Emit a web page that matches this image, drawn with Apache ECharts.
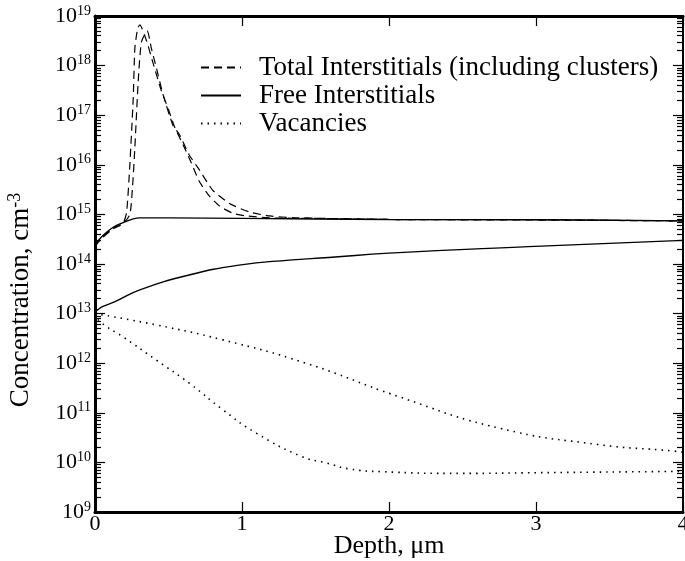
<!DOCTYPE html>
<html>
<head>
<meta charset="utf-8">
<script src="https://cdn.jsdelivr.net/npm/echarts@6/dist/echarts.min.js"></script>
<style>
html, body { margin: 0; padding: 0; background: #fff; }
#chart { width: 685px; height: 561px; }
</style>
</head>
<body>
<div id="chart"></div>
<script>
// values (depth in um, concentration in cm^-3)
const totalA_x = [0, 0.02, 0.056, 0.124, 0.19, 0.215, 0.237, 0.26, 0.271, 0.29, 0.305, 0.35, 0.4, 0.45, 0.5, 0.54, 0.6, 0.655, 0.71, 0.78, 0.85, 0.94, 1.03, 1.2, 1.5, 2, 3, 4];
const totalA_y = [2.3e14, 2.8e14, 3.6e14, 5.3e14, 6.6e14, 1.1e15, 1.0e16, 2.2e17, 2.2e18, 5.6e18, 6.6e18, 3.2e18, 1.0e18, 3.2e17, 1.3e17, 5.9e16, 2.5e16, 1.1e16, 4.6e15, 2.3e15, 1.45e15, 1.05e15, 9.3e14, 8.5e14, 8.3e14, 7.9e14, 7.8e14, 7.4e14];

const totalB_x = [0, 0.02, 0.056, 0.124, 0.19, 0.237, 0.255, 0.271, 0.294, 0.316, 0.355, 0.384, 0.418, 0.463, 0.53, 0.576, 0.64, 0.71, 0.8, 0.915, 1.05, 1.19, 1.35, 2, 3, 4];
const totalB_y = [2.2e14, 2.7e14, 3.5e14, 5.1e14, 6.5e14, 1.0e15, 3.5e15, 2.2e16, 4.8e17, 3.0e18, 5.0e18, 2.2e18, 8.9e17, 2.6e17, 6.3e16, 4.0e16, 1.6e16, 7.9e15, 3.1e15, 1.66e15, 1.12e15, 9.3e14, 8.6e14, 7.9e14, 7.7e14, 7.4e14];

const freeA_x = [0, 0.02, 0.056, 0.124, 0.19, 0.26, 0.305, 0.5, 1, 2, 3, 4];
const freeA_y = [2.4e14, 2.9e14, 3.8e14, 5.5e14, 6.8e14, 8.1e14, 8.5e14, 8.5e14, 8.3e14, 7.9e14, 7.8e14, 7.4e14];

const freeB_x = [0, 0.02, 0.05, 0.136, 0.305, 0.64, 0.98, 1.32, 1.59, 2.0, 2.95, 4.0];
const freeB_y = [1.1e13, 1.2e13, 1.38e13, 1.74e13, 3.0e13, 6.0e13, 9.5e13, 1.2e14, 1.35e14, 1.66e14, 2.24e14, 3.0e14];

const vacA_x = [0, 0.418, 0.87, 1.435, 2.07, 2.75, 3.42, 3.93, 4];
const vacA_y = [1.0e13, 5.9e12, 2.95e12, 1.0e12, 2.1e11, 4.9e10, 2.3e10, 1.7e10, 1.6e10];

const vacB_x = [0, 0.034, 0.19, 0.418, 0.644, 0.87, 1.096, 1.41, 1.57, 1.73, 1.95, 2.5, 3, 4];
const vacB_y = [1.0e13, 6.9e12, 3.4e12, 1.15e12, 3.9e11, 1.15e11, 3.9e10, 1.3e10, 9.8e9, 7.4e9, 6.5e9, 6.0e9, 6.2e9, 6.6e9];

const xTicks = [0, 1, 2, 3, 4];
const yExponents = [9, 10, 11, 12, 13, 14, 15, 16, 17, 18, 19];

const majorTicks = yExponents.map(e => Math.pow(10, e));
// minor tick positions (log10 of 2..9 x 10^e) for the overlay tick axes
const minorTicks = [];
yExponents.slice(0, -1).forEach(e => {
  for (let m = 2; m <= 9; m++) minorTicks.push(e + Math.log10(m));
});

const pairs = (xs, ys) => xs.map((x, i) => [x, ys[i]]);

const font = '"Liberation Serif", "DejaVu Serif", serif';
const black = '#000';

const names = {
  total: 'Total Interstitials (including clusters)',
  free: 'Free Interstitials',
  vac: 'Vacancies'
};

function logAxis(pos, lineW) {
  return {
    type: 'log',
    logBase: 10,
    min: majorTicks[0],
    max: majorTicks[majorTicks.length - 1],
    position: pos,
    axisLine: { show: true, lineStyle: { color: black, width: lineW } },
    axisTick: { show: false },
    axisLabel: { show: false },
    splitLine: { show: false }
  };
}

// tick-only axes in exponent units, laid over the log axis
function tickAxis(pos, len, custom) {
  const ax = {
    type: 'value',
    min: yExponents[0],
    max: yExponents[yExponents.length - 1],
    interval: 1,
    position: pos,
    axisLine: { show: false },
    axisTick: { show: true, inside: true, length: len, lineStyle: { color: black, width: 1.2 } },
    axisLabel: { show: false },
    splitLine: { show: false }
  };
  if (custom) ax.axisTick.customValues = custom;
  return ax;
}

const leftMain = logAxis('left', 3);
leftMain.axisLabel = {
  show: true,
  customValues: majorTicks,
  margin: 4,
  fontFamily: font,
  fontSize: 22,
  color: black,
  formatter: v => '10{sup|' + Math.round(Math.log10(v)) + '}',
  rich: {
    sup: { fontFamily: font, fontSize: 14, color: black, padding: [0, 0, 10, 0] }
  }
};
leftMain.name = 'Concentration, cm{sup|-3}';
leftMain.nameLocation = 'middle';
leftMain.nameGap = 60;
leftMain.nameTextStyle = {
  fontFamily: font, fontSize: 27, color: black, padding: [0, 72, 0, 0],
  rich: { sup: { fontFamily: font, fontSize: 18, color: black, padding: [0, 0, 11, 0] } }
};

const dashed = [8, 5];
const dotted = [1.5, 5];

function line(name, xs, ys, type, w, smooth) {
  return {
    name: name,
    type: 'line',
    data: pairs(xs, ys),
    symbol: 'none',
    smooth: smooth,
    lineStyle: { color: black, width: w, type: type, cap: 'butt' },
    itemStyle: { color: black },
    xAxisIndex: 0,
    yAxisIndex: 0
  };
}

const chart = echarts.init(document.getElementById('chart'), null, { renderer: 'canvas' });
chart.setOption({
  animation: false,
  backgroundColor: '#fff',
  grid: { left: 95, right: 2, top: 16, bottom: 49, outerBoundsMode: 'none', containLabel: false },
  legend: {
    orient: 'vertical',
    left: 195,
    top: 49,
    itemWidth: 40,
    itemHeight: 14,
    itemGap: 1,
    itemStyle: { opacity: 0 },
    data: [names.total, names.free, names.vac],
    textStyle: { fontFamily: font, fontSize: 27, color: black, lineHeight: 27, padding: [0, 0, 0, 13] }
  },
  xAxis: [
    {
      type: 'value',
      min: xTicks[0],
      max: xTicks[xTicks.length - 1],
      interval: 1,
      position: 'bottom',
      name: 'Depth, μm',
      nameLocation: 'middle',
      nameGap: 21,
      nameMoveOverlap: false,
      nameTextStyle: { fontFamily: font, fontSize: 26, color: black },
      axisLine: { lineStyle: { color: black, width: 3 } },
      axisTick: { inside: true, length: 10, lineStyle: { color: black, width: 1.2 } },
      axisLabel: { fontFamily: font, fontSize: 22, color: black, margin: 1, formatter: v => String(v) },
      splitLine: { show: false }
    },
    {
      type: 'value',
      min: xTicks[0],
      max: xTicks[xTicks.length - 1],
      interval: 1,
      position: 'top',
      axisLine: { lineStyle: { color: black, width: 3 } },
      axisTick: { inside: true, length: 10, lineStyle: { color: black, width: 1.2 } },
      axisLabel: { show: false },
      splitLine: { show: false }
    }
  ],
  yAxis: [
    leftMain,
    tickAxis('left', 10, null),
    tickAxis('left', 6, minorTicks),
    logAxis('right', 2),
    tickAxis('right', 10, null),
    tickAxis('right', 6, minorTicks)
  ],
  series: [
    line(names.total, totalA_x, totalA_y, dashed, 1.2, 0.2),
    line(names.total, totalB_x, totalB_y, dashed, 1.2, 0.2),
    line(names.free, freeA_x, freeA_y, 'solid', 1.4, 0.4),
    line(names.free, freeB_x, freeB_y, 'solid', 1.4, 0.5),
    line(names.vac, vacA_x, vacA_y, dotted, 1.6, 0.5),
    line(names.vac, vacB_x, vacB_y, dotted, 1.6, 0.5)
  ]
});
</script>
</body>
</html>
